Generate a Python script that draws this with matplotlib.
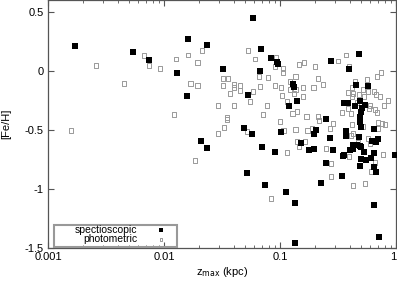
import matplotlib
matplotlib.use("Agg")
import matplotlib.pyplot as plt
from matplotlib.patches import Rectangle
from matplotlib.ticker import FixedLocator, FixedFormatter, LogLocator, NullFormatter

plt.rcParams['font.family'] = ['Liberation Sans', 'DejaVu Sans']

# spectroscopic sample: z_max (kpc) and [Fe/H]
spec_z = [0.00171, 0.0054, 0.00743, 0.0161, 0.0129, 0.0158, 0.0235, 0.0585, 0.0323,
          0.0686, 0.0836, 0.0942, 0.0961, 0.0672, 0.053, 0.48, 0.275, 0.393, 0.129,
          0.132, 0.140, 0.120, 0.249, 0.452, 0.574, 0.489, 0.356, 0.386, 0.443, 0.541,
          0.509, 0.499, 0.489, 0.489, 0.499, 0.646, 0.204, 0.196, 0.102, 0.371, 0.371,
          0.48, 0.270, 0.621, 0.672, 0.699, 0.426, 0.461, 0.489, 0.499, 0.152, 0.178,
          0.196, 0.286, 0.401, 0.426, 0.530, 0.646, 0.98, 0.356, 0.349, 0.499, 0.609,
          0.551, 0.249, 0.646, 0.489, 0.672, 0.342, 0.226, 0.113, 0.135, 0.646, 0.714,
          0.135, 0.0489, 0.0574, 0.0208, 0.0235, 0.070, 0.0905, 0.0519, 0.0743]
spec_feh = [0.211, 0.160, 0.093, 0.27, -0.017, -0.211, 0.22, 0.448, 0.017,
            0.186, 0.11, 0.076, 0.059, 0.0, -0.203, 0.144, 0.084, 0.017, -0.11,
            -0.135, -0.253, -0.296, -0.405, -0.118, -0.127, -0.253, -0.27, -0.27, -0.296, -0.287,
            -0.313, -0.346, -0.389, -0.431, -0.473, -0.49, -0.498, -0.532, -0.52, -0.507, -0.549,
            -0.557, -0.566, -0.591, -0.60, -0.574, -0.625, -0.625, -0.633, -0.642, -0.608, -0.667,
            -0.659, -0.667, -0.667, -0.659, -0.684, -0.693, -0.709, -0.709, -0.718, -0.743, -0.735,
            -0.752, -0.777, -0.811, -0.802, -0.853, -0.887, -0.946, -1.022, -1.123, -1.14, -1.41,
            -1.461, -0.481, -0.532, -0.591, -0.65, -0.642, -0.684, -0.861, -0.963]

# photometric sample
phot_z = [0.00158, 0.00259, 0.00452, 0.00672, 0.00743, 0.00924, 0.0127, 0.0161, 0.0122,
          0.0193, 0.0168, 0.0196, 0.0185, 0.0213, 0.053, 0.0609, 0.0924, 0.0905, 0.106,
          0.106, 0.0323, 0.0356, 0.0659, 0.0788, 0.0323, 0.0401, 0.0452, 0.0401, 0.0452,
          0.0585, 0.0672, 0.0905, 0.102, 0.104, 0.0371, 0.0772, 0.0551, 0.0292, 0.0401,
          0.0349, 0.0714, 0.1, 0.371, 0.316, 0.393, 0.200, 0.161, 0.146, 0.135, 0.122,
          0.213, 0.235, 0.196, 0.158, 0.137, 0.122, 0.132, 0.158, 0.115, 0.14, 0.129,
          0.168, 0.213, 0.217, 0.286, 0.743, 0.686, 0.562, 0.443, 0.418, 0.519, 0.574,
          0.646, 0.386, 0.426, 0.48, 0.672, 0.728, 0.853, 0.53, 0.418, 0.461, 0.597,
          0.788, 0.386, 0.659, 0.585, 0.686, 0.342, 0.409, 0.699, 0.757, 0.804, 0.418,
          0.519, 0.699, 0.27, 0.189, 0.174, 0.135, 0.108, 0.426, 0.409, 0.574, 0.597,
          0.470, 0.14, 0.164, 0.146, 0.249, 0.772, 0.115, 0.393, 0.275, 0.659, 0.609,
          0.275, 0.541, 0.426, 0.0836, 0.0349, 0.0519, 0.0329, 0.0292]
phot_feh = [-0.507, 0.042, -0.11, 0.127, 0.042, 0.017, 0.101, 0.135, -0.372,
            0.068, -0.11, -0.127, -0.76, 0.169, 0.169, 0.101, 0.11, 0.034, 0.017,
            -0.017, -0.068, -0.068, -0.051, -0.059, -0.127, -0.118, -0.127, -0.144, -0.169,
            -0.177, -0.135, -0.127, -0.144, -0.211, -0.194, -0.296, -0.262, -0.296, -0.296,
            -0.397, -0.372, -0.431, 0.135, 0.084, 0.034, 0.034, 0.068, 0.051, -0.051, -0.093,
            -0.068, -0.118, -0.144, -0.144, -0.16, -0.16, -0.194, -0.22, -0.262, -0.346, -0.363,
            -0.389, -0.389, -0.422, -0.448, -0.017, -0.051, -0.076, -0.093, -0.144, -0.16, -0.177,
            -0.177, -0.186, -0.194, -0.203, -0.203, -0.22, -0.253, -0.22, -0.22, -0.27, -0.296,
            -0.296, -0.321, -0.329, -0.321, -0.355, -0.355, -0.363, -0.439, -0.448, -0.456, -0.456,
            -0.473, -0.49, -0.49, -0.49, -0.507, -0.498, -0.507, -0.532, -0.549, -0.574, -0.617,
            -0.608, -0.60, -0.60, -0.642, -0.659, -0.709, -0.693, -0.726, -0.785, -0.777, -0.853,
            -0.895, -0.954, -0.971, -1.081, -0.414, -0.515, -0.481, -0.532]

x_ticks = [0.001, 0.01, 0.1, 1]
x_labels = ['0.001', '0.01', '0.1', '1']
y_ticks = [0.5, 0, -0.5, -1, -1.5]
y_labels = ['0.5', '0', '-0.5', '-1', '-1.5']

fig = plt.figure(figsize=(3.97, 2.82), dpi=100)
ax = fig.add_axes([48/397, 34/282, 348/397, 248/282])

ax.scatter(spec_z, spec_feh, marker='s', s=13, c='black', linewidths=0,
           label='spectioscopic', zorder=3)
ax.scatter(phot_z, phot_feh, marker='s', s=12, facecolors='none', edgecolors='#999999',
           linewidths=0.7, label='photometric', zorder=2)

ax.set_xscale('log')
ax.set_xlim(0.001, 1)
ax.set_ylim(-1.5, 0.6)
ax.xaxis.set_major_locator(FixedLocator(x_ticks))
ax.xaxis.set_major_formatter(FixedFormatter(x_labels))
ax.xaxis.set_minor_locator(LogLocator(base=10, subs=range(2, 10)))
ax.xaxis.set_minor_formatter(NullFormatter())
ax.yaxis.set_major_locator(FixedLocator(y_ticks))
ax.yaxis.set_major_formatter(FixedFormatter(y_labels))

ax.tick_params(which='both', direction='in', top=True, right=True, labelsize=8,
               color='#555555', pad=3)
ax.tick_params(which='major', length=4, width=0.8)
ax.tick_params(which='minor', length=2.5, width=0.6)
for sp in ax.spines.values():
    sp.set_color('#555555')
    sp.set_linewidth(0.9)
# last x label sits on the figure edge, keep it inside
ax.get_xticklabels()[-1].set_ha('right')

ax.set_xlabel('z$_{\\rm max}$ (kpc)', fontsize=8, labelpad=2)
ax.set_ylabel('[Fe/H]', fontsize=8)
ax.yaxis.set_label_coords(-0.105, 0.5)

# legend: entries right-aligned, symbol after the text, separate grey box
leg = ax.legend(loc='lower right', bbox_to_anchor=(0.359, 0.012), markerfirst=False,
                fontsize=7.5, frameon=False, handletextpad=1.25, handlelength=2.1,
                borderpad=0.1, labelspacing=-0.08, borderaxespad=0, markerscale=0.6)
for t in leg.get_texts():
    t.set_ha('right')
ax.add_patch(Rectangle((0.017, 0.005), 0.354, 0.088, transform=ax.transAxes,
                       fill=False, edgecolor='#999999', linewidth=1.5, zorder=5))

fig.savefig('out.png', dpi=100)
plt.close(fig)
